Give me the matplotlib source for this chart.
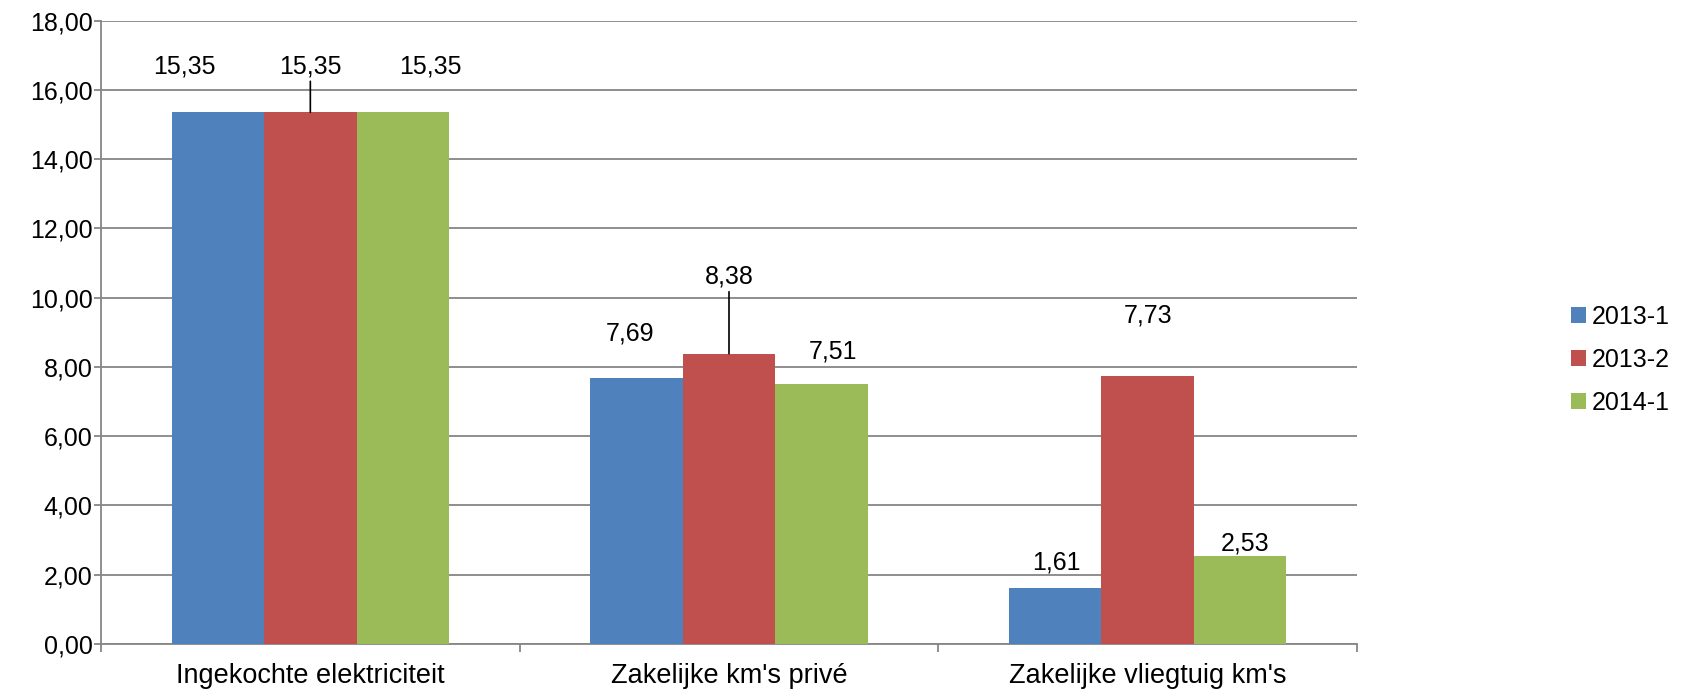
import matplotlib
matplotlib.use("Agg")
import matplotlib.pyplot as plt
import numpy as np

plt.rcParams['font.family'] = ['Liberation Sans', 'DejaVu Sans']

categories = ["Ingekochte elektriciteit", "Zakelijke km's privé", "Zakelijke vliegtuig km's"]
series_names = ["2013-1", "2013-2", "2014-1"]
values_2013_1 = [15.35, 7.69, 1.61]
values_2013_2 = [15.35, 8.38, 7.73]
values_2014_1 = [15.35, 7.51, 2.53]
yticks = [0, 2, 4, 6, 8, 10, 12, 14, 16, 18]

colors = ["#4F81BD", "#C0504D", "#9BBB59"]
series = [values_2013_1, values_2013_2, values_2014_1]

# label offsets in pixels (dx, dy) from top-centre of each bar; leader flag
label_offsets = [
    [(-33, 46, False), (-6, 44, False), (1, 26, False)],
    [(0, 46, True), (0, 77, True), (0, 61, False)],
    [(28, 46, False), (11, 32, False), (5, 13, False)],
]

fig = plt.figure(figsize=(16.86, 6.93), dpi=100)
ax = fig.add_axes([101/1686, 1-644/693, (1357-101)/1686, (644-20.5)/693])

x = np.arange(len(categories))
w = 0.221
grid_c = "#868686"

for i, (vals, col) in enumerate(zip(series, colors)):
    pos = x + (i - 1) * w
    ax.bar(pos, vals, width=w, color=col, label=series_names[i], zorder=3)
    for j, v in enumerate(vals):
        dx, dy, lead = label_offsets[i][j]
        ax.annotate(f"{v:.2f}".replace(".", ","), xy=(pos[j], v),
                    xytext=(dx, dy), textcoords='offset pixels',
                    ha='center', va='center', fontsize=18, color='black', zorder=5)
        if lead:
            # leader line from bar top to just below the label
            ax.annotate("", xy=(pos[j], v), xytext=(dx, dy - 15),
                        textcoords='offset pixels',
                        arrowprops=dict(arrowstyle='-', color='black', lw=1.2,
                                        shrinkA=0, shrinkB=0), zorder=5)

ax.set_ylim(0, 18)
ax.set_xlim(-0.5, 2.5)
ax.set_yticks(yticks)
ax.set_yticklabels([f"{t:.2f}".replace(".", ",") for t in yticks], fontsize=18)
ax.yaxis.grid(True, color=grid_c, lw=1.3, zorder=0)
ax.set_axisbelow(True)

ax.set_xticks(x)
ax.set_xticklabels(categories, fontsize=19.5)
ax.tick_params(axis='x', length=0, pad=14)
ax.set_xticks([-0.5, 0.5, 1.5, 2.5], minor=True)
ax.tick_params(axis='x', which='minor', length=6, color=grid_c, width=1.3, direction='out')
ax.tick_params(axis='y', length=5, color=grid_c, width=1.3, pad=1)

for s in ['top', 'right']:
    ax.spines[s].set_visible(False)
for s in ['left', 'bottom']:
    ax.spines[s].set_color(grid_c)
    ax.spines[s].set_linewidth(1.3)

leg = fig.legend(loc='center left', bbox_to_anchor=(1558/1686, 1-360/693),
                 frameon=False, fontsize=18, handlelength=0.6, handleheight=0.6,
                 handletextpad=0.25, labelspacing=0.75, borderpad=0)

fig.savefig("out.png", dpi=100)
